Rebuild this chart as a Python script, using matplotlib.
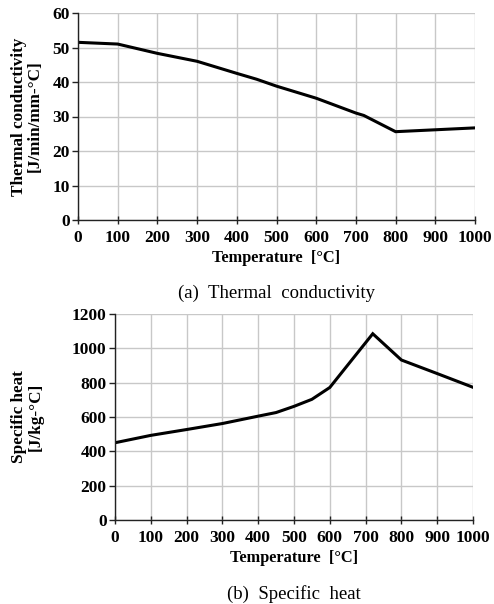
import matplotlib.pyplot as plt

# thermal conductivity
temp_k = [0, 100, 200, 300, 400, 450, 500, 600, 700, 720, 800, 1000]
cond = [51.5, 51.0, 48.3, 46.0, 42.5, 40.8, 38.8, 35.3, 31.0, 30.3, 25.6, 26.7]

# specific heat
temp_c = [0, 100, 200, 300, 400, 450, 500, 550, 600, 720, 800, 900, 1000]
heat = [450, 493, 527, 562, 605, 626, 662, 703, 772, 1085, 932, 853, 773]

xticks = list(range(0, 1001, 100))

plt.rcParams['font.family'] = ['Liberation Serif', 'DejaVu Serif']

fig = plt.figure(figsize=(4.94, 6.04), dpi=100)
W, H = 494.0, 604.0

def make_axes(left, right, top, bottom):
    return fig.add_axes([left / W, 1 - bottom / H, (right - left) / W, (bottom - top) / H])

def style(ax, ylim, ystep, ylabel):
    ax.set_xlim(0, 1000)
    ax.set_ylim(0, ylim)
    ax.set_xticks(xticks)
    ax.set_yticks(range(0, ylim + 1, ystep))
    ax.grid(True, color='#c8c8c8', linewidth=1.0)
    ax.set_axisbelow(True)
    for s in ['top', 'right']:
        ax.spines[s].set_visible(False)
    for s in ['left', 'bottom']:
        ax.spines[s].set_color('#222222')
        ax.spines[s].set_linewidth(1.0)
    ax.tick_params(axis='y', direction='out', length=4, width=1, color='#222222', pad=2)
    ax.tick_params(axis='x', direction='inout', length=6, width=1, color='#222222', pad=4)
    for lab in ax.get_xticklabels() + ax.get_yticklabels():
        lab.set_fontweight('bold')
        lab.set_fontsize(12.5)
    ax.set_xlabel('Temperature  [°C]', fontsize=11.8, fontweight='bold', labelpad=3)
    ax.set_ylabel(ylabel, fontsize=12.3, fontweight='bold', linespacing=1.0)

ax1 = make_axes(78, 475, 13, 220)
ax1.plot(temp_k, cond, color='black', linewidth=2.2, solid_joinstyle='miter')
style(ax1, 60, 10, 'Thermal conductivity\n[J/min/mm-°C]')
ax1.yaxis.set_label_coords(-0.088, 0.5)
fig.text(0.5 * (78 + 475) / W, 1 - 293 / H, '(a)  Thermal  conductivity',
         ha='center', va='center', fontsize=13.5)

ax2 = make_axes(115, 473, 314, 520)
ax2.plot(temp_c, heat, color='black', linewidth=2.2, solid_joinstyle='miter')
style(ax2, 1200, 200, 'Specific heat\n[J/kg-°C]')
ax2.yaxis.set_label_coords(-0.2, 0.5)
fig.text(0.5 * (115 + 473) / W, 1 - 594 / H, '(b)  Specific  heat',
         ha='center', va='center', fontsize=13.5)

fig.savefig('out.png', dpi=100)
